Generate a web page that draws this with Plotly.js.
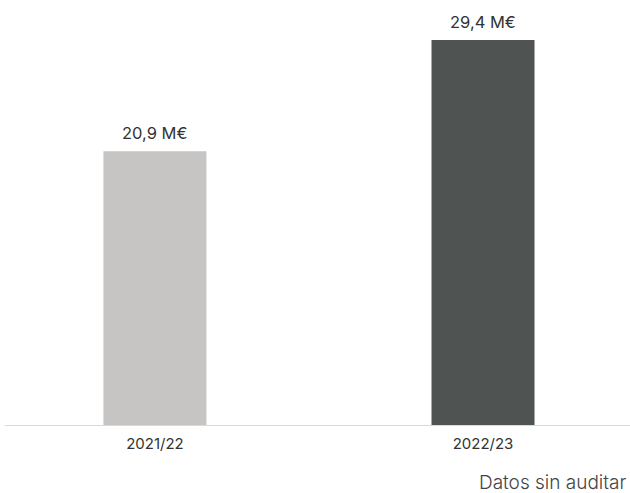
<!DOCTYPE html>
<html><head><meta charset="utf-8">
<script src="https://cdn.plot.ly/plotly-3.0.1.min.js"></script>
<style>html,body{margin:0;padding:0;background:#fff;}#chart{width:630px;height:493px;}</style>
</head><body><div id="chart"></div>
<script>
const categories = ["2021/22", "2022/23"];
const values = [20.9, 29.4];
const labels = ["20,9 M€", "29,4 M€"];
const colors = ["#c6c5c3", "#4f5352"];
const note = "Datos sin auditar";

const trace = {
  type: "bar",
  x: [0, 1],
  y: values,
  width: 0.314,
  marker: {color: colors},
  hoverinfo: "none"
};

const layout = {
  width: 630, height: 493,
  margin: {l: 5, r: 0, t: 20, b: 68},
  paper_bgcolor: "#fff", plot_bgcolor: "#fff",
  showlegend: false,
  xaxis: {
    range: [-0.457, 1.448],
    tickvals: [0, 1], ticktext: categories,
    showline: true, linecolor: "#d9d9d9", linewidth: 1,
    showgrid: false, zeroline: false, ticks: "",
    ticklabelstandoff: 5,
    tickfont: {family: "Inter, Roboto, sans-serif", size: 15, color: "#333"},
    fixedrange: true
  },
  yaxis: {
    range: [0, 30.93],
    visible: false, showgrid: false, zeroline: false, fixedrange: true
  },
  annotations: values.map((v, i) => ({
    x: i, y: v, xref: "x", yref: "y", text: labels[i],
    showarrow: false, yanchor: "bottom", yshift: 6,
    font: {family: "Inter, Roboto, sans-serif", size: 16.5, color: "#333"}
  })).concat([{
    text: note, xref: "paper", yref: "paper", x: 1, y: 0,
    xanchor: "right", yanchor: "top", yshift: -44, xshift: -1,
    showarrow: false,
    font: {family: "Inter, Roboto, sans-serif", size: 19, color: "#444", weight: 300}
  }])
};

Plotly.newPlot("chart", [trace], layout, {displayModeBar: false, staticPlot: true});
</script></body></html>
